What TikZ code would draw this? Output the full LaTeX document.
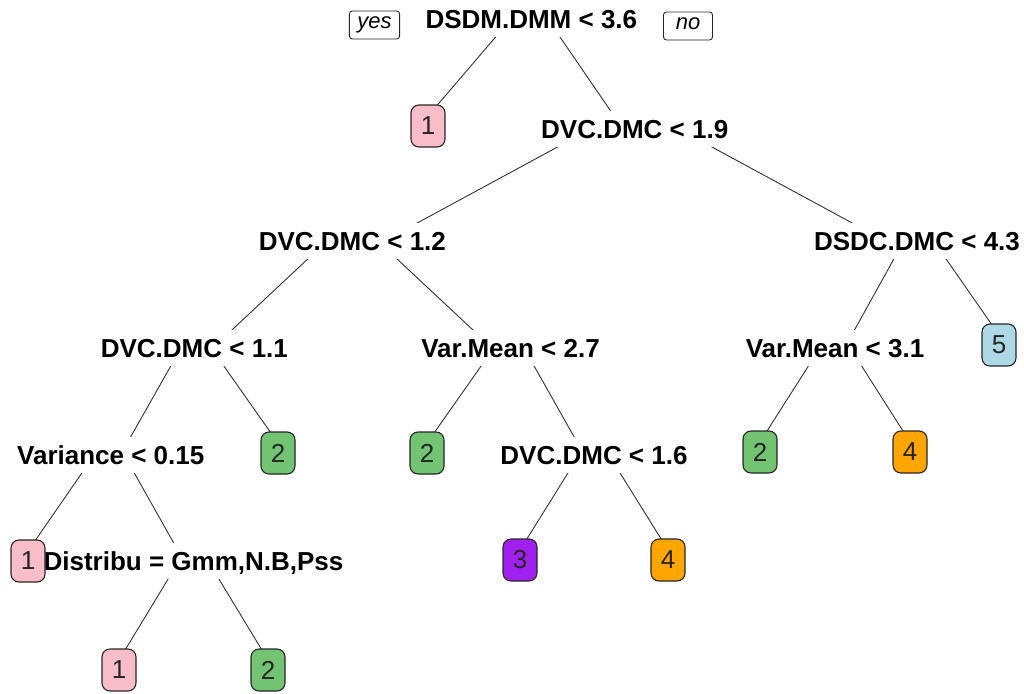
\documentclass[tikz,border=0pt]{standalone}
\usepackage{fontspec}
\setmainfont{Liberation Sans}
\definecolor{leafpink}{HTML}{F8BDC9}
\definecolor{leafgreen}{HTML}{72C372}
\definecolor{leaforange}{HTML}{FFA500}
\definecolor{leafpurple}{HTML}{A020F0}
\definecolor{leafblue}{HTML}{ADD8E6}
\definecolor{edgecol}{HTML}{333333}
\tikzset{
  split/.style={font=\fontsize{26}{26}\selectfont\bfseries, text height=18.6pt, text depth=0pt, inner xsep=0pt, inner ysep=8.7pt},
  leaf/.style={draw=black!85, line width=1.1pt, rounded corners=8pt, minimum width=34pt, minimum height=42pt, inner sep=0pt, font=\fontsize{26}{26}\selectfont, text=black!85},
  yn/.style={draw=black!85, line width=0.9pt, rounded corners=3pt, font=\fontsize{22}{22}\selectfont\itshape, text height=12pt, text depth=5pt, inner xsep=8pt, inner ysep=5.5pt, minimum width=49pt},
  edge/.style={draw=edgecol, line width=0.9pt}
}
% parent point: 23.8pt above parent centre; child point: given shift
\newcommand\treeedge[3]{%
  \begin{scope}
    \clip (#1.south -| tl) rectangle (#2.north -| br);
    \draw[edge] ([yshift=23.8pt]#1.center) -- ([yshift=#3]#2.center);
  \end{scope}}
\begin{document}
\begin{tikzpicture}[x=1pt,y=-1pt]
\useasboundingbox (0,0) rectangle (1024,693);
\coordinate (tl) at (0,0);
\coordinate (br) at (1024,693);
% split nodes
\node[split] (root) at (531.35,19) {DSDM.DMM < 3.6};
\node[yn] (yes) at (374.5,25) {yes};
\node[yn] (no) at (688,26) {no};
\node[split] (n19) at (634.7,129) {DVC.DMC < 1.9};
\node[split] (n12) at (352.4,241) {DVC.DMC < 1.2};
\node[split] (n43) at (917,241) {DSDC.DMC < 4.3};
\node[split] (n11) at (194.4,348) {DVC.DMC < 1.1};
\node[split] (n27) at (510.5,348) {Var.Mean < 2.7};
\node[split] (n31) at (835,348) {Var.Mean < 3.1};
\node[split] (nvar) at (110.75,455) {Variance < 0.15};
\node[split] (n16) at (594,455) {DVC.DMC < 1.6};
\node[split] (ndist) at (193.5,561) {Distribu = Gmm,N.B,Pss};
% leaves
\node[leaf, fill=leafpink] (L1a) at (428,126) {1};
\node[leaf, fill=leafblue] (L5) at (999,345) {5};
\node[leaf, fill=leafgreen] (L2a) at (278,453) {2};
\node[leaf, fill=leafgreen] (L2b) at (427,453) {2};
\node[leaf, fill=leafgreen] (L2c) at (760,452) {2};
\node[leaf, fill=leaforange] (L4a) at (910,452) {4};
\node[leaf, fill=leafpink] (L1b) at (28,561) {1};
\node[leaf, fill=leafpurple] (L3) at (520,560) {3};
\node[leaf, fill=leaforange] (L4b) at (668,560) {4};
\node[leaf, fill=leafpink] (L1c) at (119,670) {1};
\node[leaf, fill=leafgreen] (L2d) at (268,670) {2};
% edges
\treeedge{root}{L1a}{10pt}
\treeedge{root}{n19}{-17.1pt}
\treeedge{n19}{n12}{-17.1pt}
\treeedge{n19}{n43}{-17.1pt}
\treeedge{n12}{n11}{-17.1pt}
\treeedge{n12}{n27}{-17.1pt}
\treeedge{n43}{n31}{-17.1pt}
\treeedge{n43}{L5}{10pt}
\treeedge{n11}{nvar}{-17.1pt}
\treeedge{n11}{L2a}{10pt}
\treeedge{n27}{L2b}{10pt}
\treeedge{n27}{n16}{-17.1pt}
\treeedge{n31}{L2c}{10pt}
\treeedge{n31}{L4a}{10pt}
\treeedge{nvar}{L1b}{10pt}
\treeedge{nvar}{ndist}{-17.1pt}
\treeedge{n16}{L3}{10pt}
\treeedge{n16}{L4b}{10pt}
\treeedge{ndist}{L1c}{10pt}
\treeedge{ndist}{L2d}{10pt}
\end{tikzpicture}
\end{document}
